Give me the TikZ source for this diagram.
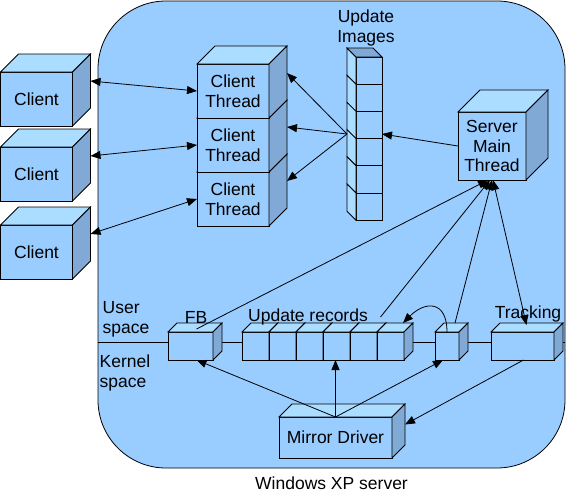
\documentclass[tikz,border=0pt]{standalone}
\usepackage{fontspec}
\setmainfont{Liberation Sans}
\usetikzlibrary{arrows.meta}
\definecolor{fondo}{HTML}{99CCFF}
\definecolor{arriba}{HTML}{AADDFF}
\definecolor{lado}{HTML}{80AAD5}
% caja en 3D: #1 nodo frontal, #2 profundidad
\newcommand{\caja}[2]{%
	\draw[fill=arriba] (#1.north west) -- ++(#2,-#2) -- ([shift={(#2,-#2)}]#1.north east) -- (#1.north east) -- cycle;
	\draw[fill=lado] (#1.north east) -- ++(#2,-#2) -- ([shift={(#2,-#2)}]#1.south east) -- (#1.south east) -- cycle;
}

\begin{document}
\begin{tikzpicture}[x=1pt,y=-1pt,line width=0.8pt,
	every node/.style={font=\fontsize{17.5}{19.8}\selectfont},
	frente/.style={draw,fill=fondo,inner sep=0pt,outer sep=0pt,anchor=north west,align=center},
	flecha/.style={-{Triangle[length=10pt,width=8pt]}},
	doble/.style={{Triangle[length=10pt,width=8pt]}-{Triangle[length=10pt,width=8pt]}}]
	\useasboundingbox (0,0) rectangle (571,499);
	% Servidor
		\node[draw,fill=fondo,rounded corners=68pt,minimum width=467pt,minimum height=467pt,inner sep=0pt] (servidor) at (331.5,234.5) {};
		\node[below=5pt] (titulo) at (servidor.south) {Windows XP server};
		\coordinate (sep) at (0,342);
		\draw (servidor.west |- sep) -- (servidor.east |- sep);
	% Clientes
		\foreach \i/\y in {1/72,2/147,3/225} {
			\node[frente,minimum width=72pt,minimum height=54pt] (cliente\i) at (0.5,\y) {Client};
			\caja{cliente\i}{18}
		}
	% Hilos de cliente
		\foreach \i/\y in {3/172,2/118,1/64} {
			\node[frente,minimum width=72pt,minimum height=54pt] (hilo\i) at (197,\y) {Client\\Thread};
			\caja{hilo\i}{18}
		}
	% Imagenes
		\foreach \i in {1,...,6} {
			\node[frente,minimum width=26pt,minimum height=27.2pt] (img\i) at (356,{57+(\i-1)*27.2}) {};
			\draw[fill=arriba] (img\i.north west) -- ++(-9,-9) -- ++(0,27.2) -- (img\i.south west) -- cycle;
		}
		\draw[fill=lado] (img1.north west) -- ++(-9,-9) -- ++(26,0) -- (img1.north east) -- cycle;
		\node[align=center] (limg) at (366,28) {Update\\Images};
		\coordinate (img) at (347,134);
	% Hilo principal
		\node[frente,minimum width=68pt,minimum height=68pt] (principal) at (458,112) {Server\\Main\\Thread};
		\caja{principal}{22}
	% Espacio de usuario
		\node[frente,minimum width=45pt,minimum height=28pt] (fb) at (168,332) {};
		\caja{fb}{9}
		\foreach \i in {1,...,6} {
			\node[frente,minimum width=27pt,minimum height=28pt] (reg\i) at ({242+(\i-1)*27},332) {};
			\caja{reg\i}{9}
		}
		\node[frente,minimum width=24pt,minimum height=28pt] (aux) at (435,332) {};
		\caja{aux}{9}
		\node[frente,minimum width=63pt,minimum height=28pt] (rastreo) at (491,332) {};
		\caja{rastreo}{9}
		\node (lfb) at (196,317) {FB};
		\node (lreg) at (308,317) {Update records};
		\node (lrastreo) at (528,314) {Tracking};
		\node[align=left,anchor=west] (usuario) at (99,319) {User\\space};
		\node[align=left,anchor=west] (nucleo) at (96,373) {Kernel\\space};
	% Driver
		\node[frente,minimum width=113pt,minimum height=41pt] (espejo) at (279,417) {Mirror Driver};
		\caja{espejo}{13}
	% Flechas
		\foreach \i in {1,2,3}
			\draw[doble] ([shift={(18,-18)}]cliente\i.east) -- (hilo\i.west);
		\foreach \i in {1,2,3}
			\draw[flecha] (img) -- ([shift={(18,-18)}]hilo\i.east);
		\draw[flecha] (principal.west) -- ([yshift=-9pt]img3.east);
		\draw[flecha] ([shift={(6,-3)}]fb.north) -- ([xshift=-4pt]principal.south);
		\draw[flecha] ([xshift=9pt]lreg.east) -- ([xshift=-2pt]principal.south);
		\draw[flecha] ([shift={(8,-9)}]aux.north) -- (principal.south);
		\draw[doble] ([xshift=1pt]principal.south) -- ([shift={(4,-7)}]rastreo.north);
		\draw[flecha] (espejo.north) -- ([xshift=6pt]fb.south);
		\draw[flecha] (espejo.north) -- (espejo.north |- reg4.south);
		\draw[flecha] (espejo.north) -- ([xshift=-4pt]aux.south);
		\draw[flecha] ([xshift=1pt]rastreo.south) -- ([shift={(13,-13)}]espejo.east);
		\draw[flecha] (aux.north) .. controls +(0,-32) and +(22,-22) .. ([shift={(-1,-9)}]reg6.north east);
\end{tikzpicture}
\end{document}
